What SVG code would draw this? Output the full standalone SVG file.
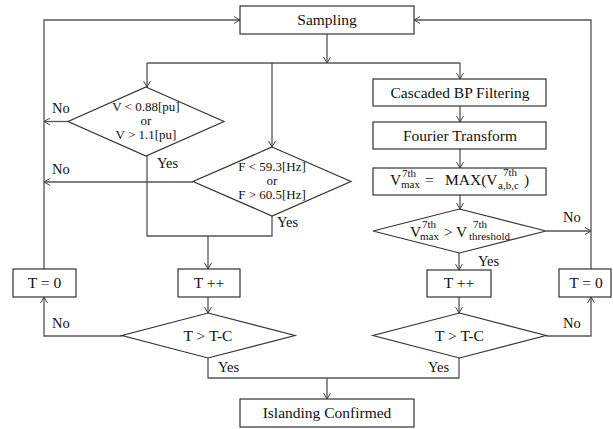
<svg xmlns="http://www.w3.org/2000/svg" width="613" height="429" viewBox="0 0 613 429" font-family="'Liberation Serif', 'Times New Roman', serif">
<defs>
<marker id="arr" markerUnits="userSpaceOnUse" viewBox="0 0 6 8" markerWidth="6" markerHeight="8" refX="6" refY="4" orient="auto">
<path d="M0,0.5 L6,4 L0,7.5" fill="none" stroke="#444" stroke-width="1"/>
</marker>
<style>
.box{fill:#fff;stroke:#333;stroke-width:1.2}
.ln{fill:none;stroke:#555;stroke-width:1.3}
.a{marker-end:url(#arr)}
text{font-family:'Liberation Serif','Times New Roman',serif;fill:#111}
.t{font-size:15.5px;text-anchor:middle}
.s{font-size:13px;text-anchor:middle}
.l{font-size:14.5px}
.b{font-size:15.5px}
.sm{font-size:11px}
</style>
</defs>
<rect width="613" height="429" fill="#fff"/>
<g id="connectors">
<path class="ln a" d="M44,269 V20 H240"/>
<path class="ln a" d="M591,269 V20 H414"/>
<path class="ln a" d="M327,34 V63"/>
<path class="ln" d="M147,63 H460"/>
<path class="ln a" d="M147,63 V87"/>
<path class="ln a" d="M272,63 V147"/>
<path class="ln a" d="M460,63 V79"/>
<path class="ln a" d="M68,121.5 H44"/>
<path class="ln a" d="M193,182 H44"/>
<path class="ln" d="M147,156 V236 H272 V216"/>
<path class="ln a" d="M208,236 V269"/>
<path class="ln a" d="M208,297 V313"/>
<path class="ln a" d="M122,336 H44 V297"/>
<path class="ln" d="M208,358 V378 H459 V358"/>
<path class="ln a" d="M327,378 V399"/>
<path class="ln a" d="M460,106 V122"/>
<path class="ln a" d="M460,149 V168"/>
<path class="ln a" d="M460,195 V209"/>
<path class="ln a" d="M459,253 V270"/>
<path class="ln a" d="M459,297 V313"/>
<path class="ln a" d="M546,231 H591"/>
<path class="ln a" d="M546,336 H591 V297"/>
</g>
<g id="sampling"><rect class="box" x="240" y="6" width="174" height="28"/><text class="t" x="327" y="25">Sampling</text></g>
<g id="vcheck"><polygon class="box" points="146,87 224,121.5 146,156 68,121.5"/>
<text class="s" x="146" y="111">V &lt; 0.88[pu]</text><text class="s" x="146" y="125">or</text><text class="s" x="146" y="139">V &gt; 1.1[pu]</text></g>
<g id="fcheck"><polygon class="box" points="272,147 351,181.5 272,216 193,181.5"/>
<text class="s" x="272" y="171">F &lt; 59.3[Hz]</text><text class="s" x="272" y="185">or</text><text class="s" x="272" y="199">F &gt; 60.5[Hz]</text></g>
<g id="bp"><rect class="box" x="373" y="79" width="173" height="27"/><text class="t" x="460" y="98">Cascaded BP Filtering</text></g>
<g id="fourier"><rect class="box" x="373" y="122" width="173" height="27"/><text class="t" x="460" y="141">Fourier Transform</text></g>
<g id="vmax"><rect class="box" x="373" y="168" width="173" height="27"/>
<text class="b" x="390" y="185">V</text>
<text class="sm" x="402" y="177">7th</text><text class="sm" x="401" y="188">max</text>
<text class="b" x="425" y="185">=</text>
<text class="b" x="445" y="185">MAX(V</text>
<text class="sm" x="503" y="176">7th</text><text class="sm" x="498" y="189">a,b,c</text>
<text class="b" x="524" y="185">)</text></g>
<g id="thcheck"><polygon class="box" points="459.5,209 546,231 459.5,253 373,231"/>
<text class="b" x="410" y="237">V</text>
<text class="sm" x="422" y="228">7th</text><text class="sm" x="420" y="240">max</text>
<text class="b" x="444" y="237">&gt;</text>
<text class="b" x="456" y="237">V</text>
<text class="sm" x="473" y="228">7th</text><text class="sm" x="469" y="240">threshold</text></g>
<g id="t0left"><rect class="box" x="13" y="269" width="63" height="28"/><text class="t" x="44.5" y="288">T = 0</text></g>
<g id="tppleft"><rect class="box" x="178" y="269" width="62" height="28"/><text class="t" x="209" y="288">T ++</text></g>
<g id="tcleft"><polygon class="box" points="208,313 295,335.5 208,358 122,335.5"/><text class="t" x="208" y="341">T &gt; T-C</text></g>
<g id="tppright"><rect class="box" x="427" y="270" width="64" height="27"/><text class="t" x="459" y="288">T ++</text></g>
<g id="t0right"><rect class="box" x="559" y="269" width="52" height="28"/><text class="t" x="586" y="288">T = 0</text></g>
<g id="tcright"><polygon class="box" points="459.5,313 546,335.5 459.5,358 373,335.5"/><text class="t" x="459.5" y="341">T &gt; T-C</text></g>
<g id="island"><rect class="box" x="240" y="399" width="174" height="28"/><text class="t" x="327" y="418">Islanding Confirmed</text></g>
<g id="labels">
<text class="l" x="52" y="113">No</text>
<text class="l" x="52" y="174">No</text>
<text class="l" x="157" y="168">Yes</text>
<text class="l" x="277" y="227">Yes</text>
<text class="l" x="52" y="328">No</text>
<text class="l" x="218" y="372">Yes</text>
<text class="l" x="563" y="222">No</text>
<text class="l" x="478" y="266">Yes</text>
<text class="l" x="563" y="328">No</text>
<text class="l" x="428" y="372">Yes</text>
</g>
</svg>
